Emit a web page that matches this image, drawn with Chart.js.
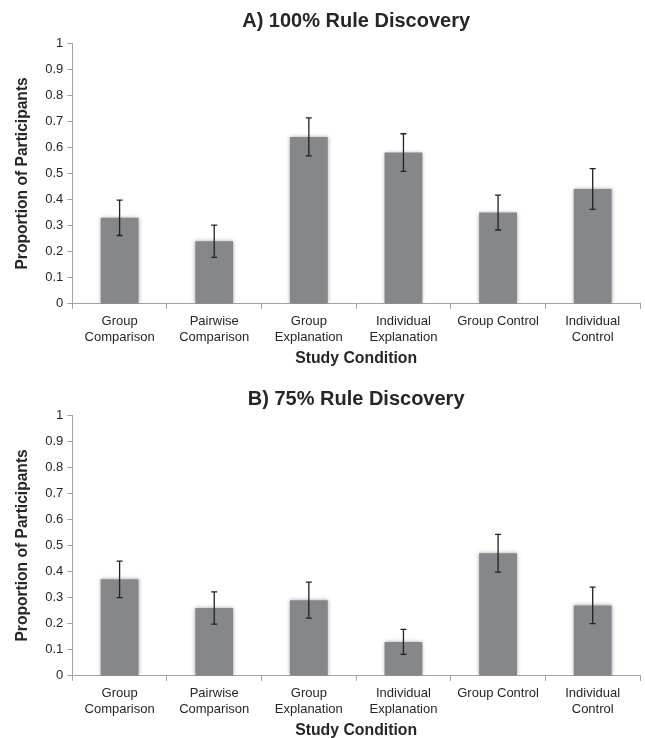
<!DOCTYPE html>
<html>
<head>
<meta charset="utf-8">
<script src="https://cdn.jsdelivr.net/npm/chart.js@4.4.1/dist/chart.umd.min.js"></script>
<style>
    body { margin: 0; background: #fff; overflow: hidden; }
    canvas { display: block; position: absolute; left: 0; }
    #ruleA { top: 0; }
    #ruleB { top: 369px; }
</style>
</head>
<body>
<canvas id="ruleA" width="645" height="369"></canvas>
<canvas id="ruleB" width="645" height="372"></canvas>
<script>
const categories = [
    ['Group', 'Comparison'],
    ['Pairwise', 'Comparison'],
    ['Group', 'Explanation'],
    ['Individual', 'Explanation'],
    ['Group Control'],
    ['Individual', 'Control'],
];
const yTickLabels = ['0', '0.1', '0.2', '0.3', '0.4', '0.5', '0.6', '0.7', '0.8', '0.9', '1'];

const fullValues = [0.33, 0.24, 0.64, 0.58, 0.35, 0.44];
const fullErrors = [0.068, 0.062, 0.073, 0.072, 0.067, 0.078];

const partialValues = [0.37, 0.26, 0.29, 0.13, 0.47, 0.27];
const partialErrors = [0.07, 0.062, 0.069, 0.048, 0.072, 0.07];

const AXIS_COLOR = '#a3a3a3';
const TEXT_COLOR = '#262626';
const BAR_COLOR = '#86878b';

Chart.defaults.font.family = "'Liberation Sans', Arial, sans-serif";
Chart.defaults.color = TEXT_COLOR;

// soft halo round the bars, as in the original
const barShadow = {
    id: 'barShadow',
    beforeDatasetsDraw(chart) {
        const ctx = chart.ctx;
        ctx.save();
        ctx.shadowColor = 'rgba(0,0,0,0.35)';
        ctx.shadowBlur = 4;
    },
    afterDatasetsDraw(chart) {
        chart.ctx.restore();
    }
};

const errorBars = {
    id: 'errorBars',
    afterDatasetsDraw(chart, args, opts) {
        const ctx = chart.ctx;
        const x = chart.scales.x;
        const y = chart.scales.y;
        const values = chart.data.datasets[0].data;
        ctx.save();
        ctx.strokeStyle = '#222';
        ctx.lineWidth = 1.3;
        values.forEach((v, i) => {
            const px = x.getPixelForValue(i);
            const top = y.getPixelForValue(v + opts.errors[i]);
            const bottom = y.getPixelForValue(v - opts.errors[i]);
            ctx.beginPath();
            ctx.moveTo(px, top);
            ctx.lineTo(px, bottom);
            ctx.moveTo(px - 3, top);
            ctx.lineTo(px + 3, top);
            ctx.moveTo(px - 3, bottom);
            ctx.lineTo(px + 3, bottom);
            ctx.stroke();
        });
        ctx.restore();
    }
};

function makeChart(canvasId, titleText, values, errors, titlePadding) {
    return new Chart(document.getElementById(canvasId), {
        type: 'bar',
        data: {
            labels: categories,
            datasets: [{
                data: values,
                backgroundColor: BAR_COLOR,
                borderWidth: 0,
                barPercentage: 0.4,
                categoryPercentage: 1,
            }]
        },
        options: {
            responsive: false,
            animation: false,
            devicePixelRatio: 1,
            layout: {
                padding: {left: 13, right: 5, top: 0, bottom: 1}
            },
            plugins: {
                legend: {display: false},
                tooltip: {enabled: false},
                title: {
                    display: true,
                    text: titleText,
                    fullSize: false,
                    color: TEXT_COLOR,
                    font: {size: 20, weight: 'bold'},
                    padding: titlePadding,
                },
                errorBars: {errors},
            },
            scales: {
                x: {
                    grid: {
                        offset: true,
                        drawOnChartArea: false,
                        color: AXIS_COLOR,
                        tickLength: 5,
                    },
                    border: {color: AXIS_COLOR},
                    ticks: {
                        font: {size: 13, lineHeight: 1.2},
                        color: TEXT_COLOR,
                        padding: 5,
                        maxRotation: 0,
                        autoSkip: false,
                    },
                    title: {
                        display: true,
                        text: 'Study Condition',
                        color: TEXT_COLOR,
                        font: {size: 15.8, weight: 'bold'},
                        padding: {top: -1, bottom: 0},
                    }
                },
                y: {
                    min: 0,
                    max: 1,
                    grid: {
                        drawOnChartArea: false,
                        color: AXIS_COLOR,
                        tickLength: 5,
                    },
                    border: {color: AXIS_COLOR},
                    ticks: {
                        stepSize: 0.1,
                        font: {size: 13},
                        color: TEXT_COLOR,
                        padding: 4,
                        callback: (v, i) => yTickLabels[i],
                    },
                    title: {
                        display: true,
                        text: 'Proportion of Participants',
                        color: TEXT_COLOR,
                        font: {size: 15.6, weight: 'bold'},
                        padding: {top: 0, bottom: 9.5},
                    }
                }
            }
        },
        plugins: [barShadow, errorBars]
    });
}

makeChart('ruleA', 'A) 100% Rule Discovery', fullValues, fullErrors, {top: 9, bottom: 10});
makeChart('ruleB', 'B) 75% Rule Discovery', partialValues, partialErrors, {top: 18, bottom: 4});
</script>
</body>
</html>
